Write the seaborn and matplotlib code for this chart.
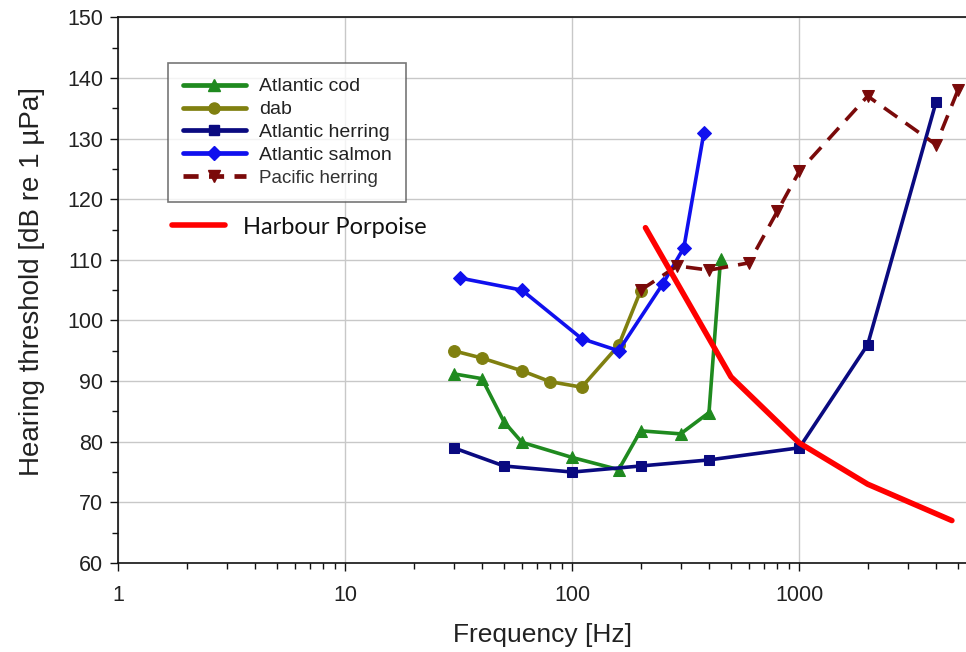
import numpy as np
import pandas as pd
import matplotlib
matplotlib.use("Agg")
import matplotlib.pyplot as plt
from matplotlib.ticker import LogLocator, FixedLocator, MultipleLocator, NullFormatter, FuncFormatter
from matplotlib.lines import Line2D
import seaborn as sns

# ---------------- data ----------------
cod_f = [30, 40, 50, 60, 100, 160, 200, 300, 400, 450]
cod_db = [91.2, 90.4, 83.3, 79.9, 77.4, 75.4, 81.8, 81.3, 84.8, 110.2]

dab_f = [30, 40, 60, 80, 110, 160, 200]
dab_db = [95.0, 93.8, 91.7, 89.9, 89.0, 95.9, 104.9]

aherring_f = [30, 50, 100, 200, 400, 1000, 2000, 4000]
aherring_db = [79.0, 76.0, 75.0, 76.0, 77.0, 79.0, 96.0, 136.0]

salmon_f = [32, 60, 110, 160, 250, 310, 380]
salmon_db = [107.0, 105.0, 97.0, 95.0, 106.0, 112.0, 131.0]

pherring_f = [200, 290, 400, 600, 800, 1000, 2000, 4000, 5000]
pherring_db = [105.0, 109.0, 108.3, 109.5, 118.0, 124.6, 137.0, 129.0, 138.0]

porpoise_f = [210, 500, 1000, 2000, 4700]
porpoise_db = [115.3, 90.7, 79.8, 73.0, 67.0]

series_names = ["Atlantic cod", "dab", "Atlantic herring", "Atlantic salmon", "Pacific herring"]
porpoise_label = "Harbour Porpoise"
x_label = "Frequency [Hz]"
y_label = "Hearing threshold [dB re 1 µPa]"
y_ticks = [60, 70, 80, 90, 100, 110, 120, 130, 140, 150]
x_ticks = [1, 10, 100, 1000]

# ---------------- styling ----------------
sns.set_theme(style="white")
plt.rcParams["font.family"] = ["Liberation Sans", "DejaVu Sans"]

fig = plt.figure(figsize=(9.66, 6.52), dpi=100)
ax = fig.add_axes([118.3 / 966, 1 - 563 / 652, (966 - 118.3) / 966, (563 - 17.3) / 652])

styles = [
    dict(color="#1f8a1f", marker="^", markersize=8.5),
    dict(color="#808010", marker="o", markersize=8.5),
    dict(color="#0a0a80", marker="s", markersize=7.5),
    dict(color="#1010ee", marker="D", markersize=7.5),
    dict(color="#7a0a0a", marker="v", markersize=8.5),
]
data = [(cod_f, cod_db), (dab_f, dab_db), (aherring_f, aherring_db),
        (salmon_f, salmon_db), (pherring_f, pherring_db)]

handles = []
for name, (f, db), st in zip(series_names, data, styles):
    df = pd.DataFrame({"f": f, "db": db})
    sns.lineplot(data=df, x="f", y="db", ax=ax, sort=False, color=st["color"],
                 marker=st["marker"], markersize=st["markersize"],
                 markeredgecolor=st["color"], linewidth=2.6, zorder=3)
    ls = "-"
    if name == "Pacific herring":
        ax.lines[-1].set_dashes((4.5, 2.8))
        ls = (0, (3.2, 2.2))
    handles.append(Line2D([], [], color=st["color"], marker=st["marker"],
                          markersize=st["markersize"] - 0.5, markeredgecolor=st["color"],
                          linewidth=3.4, linestyle=ls))

dfp = pd.DataFrame({"f": porpoise_f, "db": porpoise_db})
sns.lineplot(data=dfp, x="f", y="db", ax=ax, sort=False, color="#ff0000",
             linewidth=4.0, zorder=4)

# ---------------- axes ----------------
ax.set_xscale("log")
ax.set_xlim(1, 5423)
ax.set_ylim(60, 150)
ax.xaxis.set_major_locator(FixedLocator(x_ticks))
ax.xaxis.set_major_formatter(FuncFormatter(lambda v, p: f"{int(round(v))}"))
ax.xaxis.set_minor_locator(LogLocator(base=10, subs=np.arange(2, 10)))
ax.xaxis.set_minor_formatter(NullFormatter())
ax.yaxis.set_major_locator(FixedLocator(y_ticks))
ax.yaxis.set_minor_locator(MultipleLocator(5))

ax.grid(True, which="major", color="#c8c8c8", linewidth=1.0)
ax.set_axisbelow(True)
for s in ["left", "bottom", "top"]:
    ax.spines[s].set_visible(True)
    ax.spines[s].set_color("#111111")
    ax.spines[s].set_linewidth(1.2)
ax.spines["right"].set_visible(False)

ax.tick_params(axis="both", which="both", bottom=True, left=True, top=False, right=False)
ax.tick_params(axis="both", which="major", direction="out", length=6, width=1.0,
               color="#111111", labelsize=15.5, labelcolor="#222222")
ax.tick_params(axis="both", which="minor", direction="out", length=4, width=1.0,
               color="#111111")
ax.tick_params(axis="x", which="major", pad=10)
ax.tick_params(axis="y", which="major", pad=5)

ax.set_xlabel(x_label, fontsize=19, color="#222222", labelpad=12)
ax.set_ylabel(y_label, fontsize=20, color="#222222")
ax.yaxis.set_label_coords(-0.086, 0.515)

# ---------------- legends ----------------
leg = ax.legend(handles, series_names, loc="upper left",
                bbox_to_anchor=(0.059, 0.9157), borderaxespad=0,
                fontsize=14, handlelength=3.24, handletextpad=0.67,
                labelspacing=0.27, borderpad=0.75, frameon=True, fancybox=False)
leg.get_frame().set_edgecolor("#555555")
leg.get_frame().set_linewidth(1.2)
for t in leg.get_texts():
    t.set_color("#222222")
leg.get_texts()[-1].set_color("#333333")
leg.get_texts()[-1].set_fontsize(13.5)
ax.add_artist(leg)

ph = Line2D([], [], color="#ff0000", linewidth=4.0)
leg2 = ax.legend([ph], [porpoise_label], loc="center left",
                 bbox_to_anchor=(0.0633, 0.6157), borderaxespad=0, borderpad=0,
                 frameon=False, handlelength=2.25, handletextpad=0.76,
                 prop={"family": ["Lato", "DejaVu Sans"], "size": 17})
for t in leg2.get_texts():
    t.set_color("#111111")

fig.savefig("out.png", dpi=100)
